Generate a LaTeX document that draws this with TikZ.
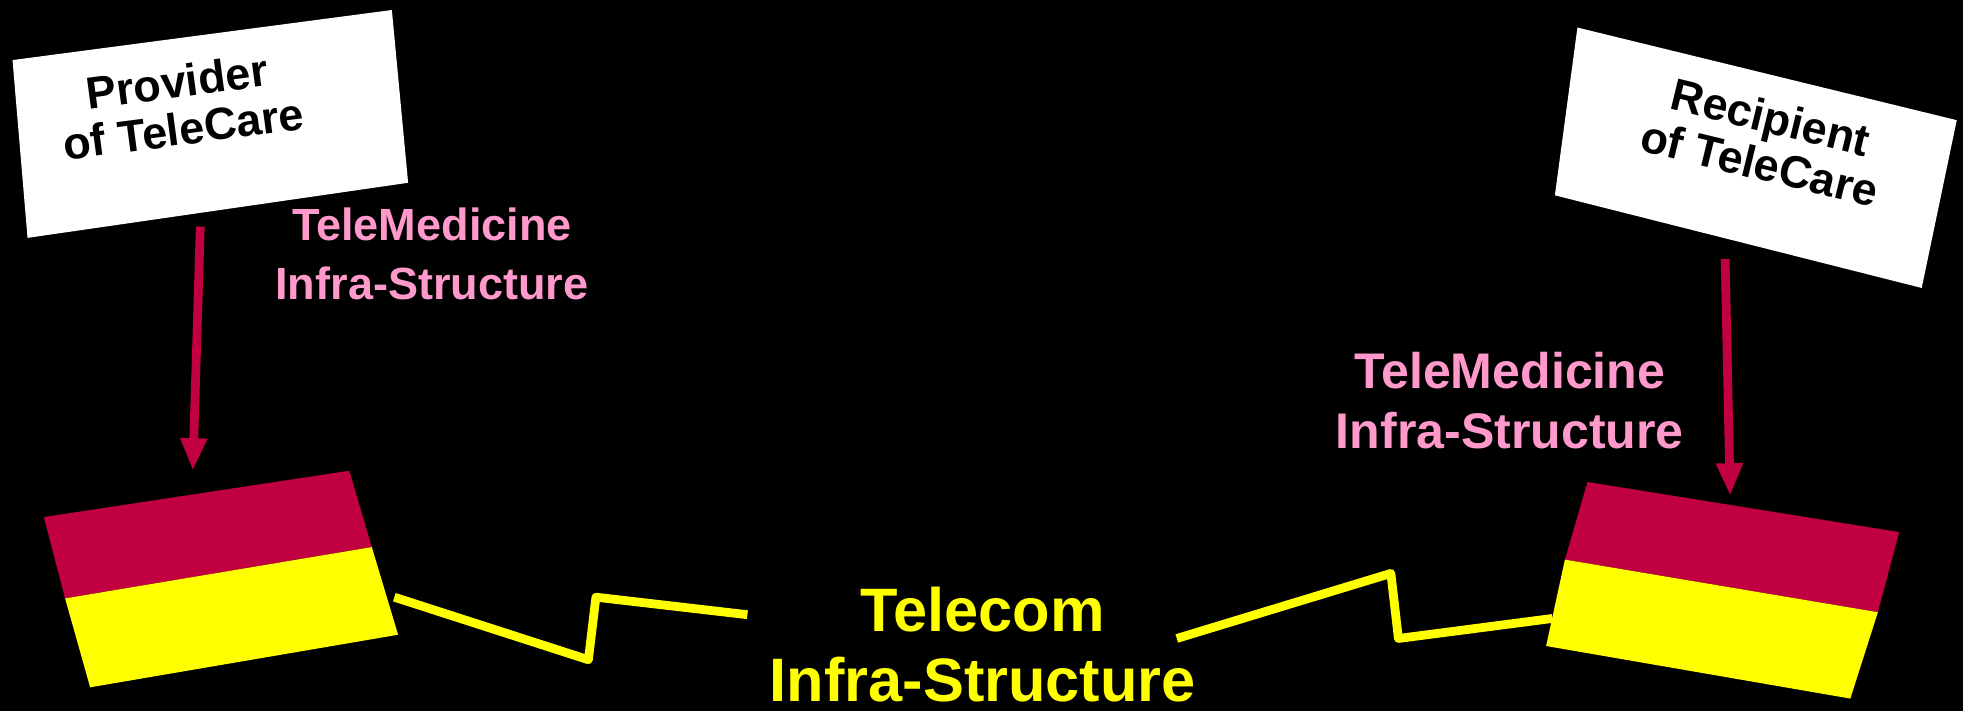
\documentclass[tikz,border=0pt]{standalone}
\usepackage{fontspec}
\setmainfont{Liberation Sans}
\usetikzlibrary{arrows.meta}
\definecolor{crim}{HTML}{C00040}
\definecolor{pinkt}{HTML}{FF99CC}
\definecolor{yel}{HTML}{FFFF00}
\begin{document}
\begin{tikzpicture}[x=1pt,y=-1pt,
  signtext/.style={font=\fontsize{36}{38}\selectfont\bfseries, text=black, align=center, inner sep=0pt},
  pinklabel/.style={font=\fontsize{36}{47}\selectfont\bfseries, text=pinkt, align=center, inner sep=0pt},
  pinklabelbig/.style={pinklabel, font=\fontsize{40}{48}\selectfont\bfseries},
  telelabel/.style={font=\fontsize{49}{56}\selectfont\bfseries, text=yel, align=center, inner sep=0pt},
  pointer/.style={draw=crim, line width=7pt, -{Triangle[length=26pt,width=20pt]}},
  zigzag/.style={draw=yel, line width=7pt, line join=round}]
\fill[black] (0,0) rectangle (1568,568);
\useasboundingbox (0,0) rectangle (1568,568);
% signs
\fill[white] (10,48) -- (313,8) -- (326,146) -- (22,190) -- cycle;
\node[signtext, rotate=7.5] (provider) at (144,84) {Provider\\of TeleCare};
\fill[white] (1260,22) -- (1563,96) -- (1535,230) -- (1242,156) -- cycle;
\node[signtext, rotate=-13.7] (recipient) at (1410,112) {Recipient\\of TeleCare};
% pink labels
\node[pinklabel] (tmleft) at (345,203) {TeleMedicine\\Infra-Structure};
\node[pinklabelbig] (tmright) at (1206,320) {TeleMedicine\\Infra-Structure};
% telecom label
\node[telelabel] (telecom) at (785,515) {Telecom\\Infra-Structure};
% blocks
\fill[crim] (35,413) -- (279,376) -- (297,437) -- (52,478) -- cycle;
\fill[yel] (52,478) -- (297,437) -- (318,507) -- (72,549) -- cycle;
\fill[crim] (1268,385) -- (1517,425) -- (1500,489) -- (1250,447) -- cycle;
\fill[yel] (1250,447) -- (1500,489) -- (1478,558) -- (1235,516) -- cycle;
% arrows
\coordinate (la1) at (160,181);
\coordinate (la2) at (154,376);
\coordinate (ra1) at (1378,207);
\coordinate (ra2) at (1382,396);
\draw[pointer] (la1) -- (la2);
\draw[pointer] (ra1) -- (ra2);
% zigzags
\coordinate (lz0) at (315,477);
\coordinate (lz1) at (470,527);
\coordinate (lz2) at (476,477);
\coordinate (lz3) at (597,491);
\coordinate (rz0) at (940,510);
\coordinate (rz1) at (1111,458);
\coordinate (rz2) at (1117,510);
\coordinate (rz3) at (1240,494);
\draw[zigzag] (lz0) -- (lz1) -- (lz2) -- (lz3);
\draw[zigzag] (rz0) -- (rz1) -- (rz2) -- (rz3);
\end{tikzpicture}
\end{document}
